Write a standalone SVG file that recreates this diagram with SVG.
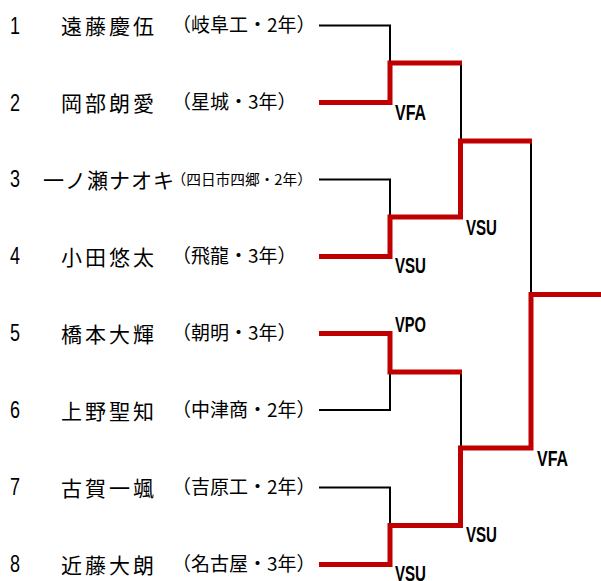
<svg xmlns="http://www.w3.org/2000/svg" width="601" height="581" viewBox="0 0 601 581">
<style>
.num{font-family:"Liberation Sans",Arial,sans-serif;font-size:23px;fill:#000}
.name{font-family:"Noto Sans CJK JP","Noto Sans CJK SC",sans-serif;font-size:21px;fill:#000}
.sch{font-family:"Noto Sans CJK JP","Noto Sans CJK SC",sans-serif;font-size:19px;fill:#000}
.sch2{font-family:"Noto Sans CJK JP","Noto Sans CJK SC",sans-serif;font-size:14.7px;fill:#000}
.lab{font-family:"Liberation Sans",Arial,sans-serif;font-size:22px;font-weight:bold;fill:#000}
.lose{fill:none;stroke:#000;stroke-width:2}
.win{fill:none;stroke:#C00000;stroke-width:5;stroke-linejoin:miter;stroke-linecap:butt}
</style>
<rect width="601" height="581" fill="#fff"/>
<g id="p1"><text class="num" x="10" y="33.5" textLength="10" lengthAdjust="spacingAndGlyphs">1</text><text class="name" x="61" y="33.5" textLength="93">遠藤慶伍</text><text class="sch" x="172" y="31.5">（岐阜工・2年）</text></g>
<g id="p2"><text class="num" x="10" y="110.5" textLength="10" lengthAdjust="spacingAndGlyphs">2</text><text class="name" x="61" y="110.5" textLength="93">岡部朗愛</text><text class="sch" x="172" y="108.5">（星城・3年）</text></g>
<g id="p3"><text class="num" x="10" y="187" textLength="10" lengthAdjust="spacingAndGlyphs">3</text><text class="name" x="43" y="187.5" textLength="131">一ノ瀬ナオキ</text><text class="sch2" x="171.5" y="184.5">（四日市四郷・2年）</text></g>
<g id="p4"><text class="num" x="10" y="264" textLength="10" lengthAdjust="spacingAndGlyphs">4</text><text class="name" x="61" y="264.5" textLength="93">小田悠太</text><text class="sch" x="172" y="262.5">（飛龍・3年）</text></g>
<g id="p5"><text class="num" x="10" y="341" textLength="10" lengthAdjust="spacingAndGlyphs">5</text><text class="name" x="61" y="341.5" textLength="93">橋本大輝</text><text class="sch" x="172" y="339.5">（朝明・3年）</text></g>
<g id="p6"><text class="num" x="10" y="418" textLength="10" lengthAdjust="spacingAndGlyphs">6</text><text class="name" x="61" y="418.5" textLength="93">上野聖知</text><text class="sch" x="172" y="416.5">（中津商・2年）</text></g>
<g id="p7"><text class="num" x="10" y="495" textLength="10" lengthAdjust="spacingAndGlyphs">7</text><text class="name" x="61" y="495.5" textLength="93">古賀一颯</text><text class="sch" x="172" y="493.5">（吉原工・2年）</text></g>
<g id="p8"><text class="num" x="10" y="572" textLength="10" lengthAdjust="spacingAndGlyphs">8</text><text class="name" x="61" y="572.5" textLength="93">近藤大朗</text><text class="sch" x="172" y="570.5">（名古屋・3年）</text></g>
<g id="connectors">
<path class="lose" d="M319,25.5 H390 V63"/>
<path class="lose" d="M319,179.5 H390 V217"/>
<path class="lose" d="M319,410 H390 V372"/>
<path class="lose" d="M319,487.5 H390 V525.5"/>
<path class="lose" d="M461,63 V141"/>
<path class="lose" d="M461,372 V448"/>
<path class="lose" d="M531,141 V294.5"/>
<path class="win" d="M319,102.5 H390 V63 H462"/>
<path class="win" d="M319,256.5 H390 V217 H460.5 V141 H532"/>
<path class="win" d="M319,333.5 H390 V372 H462"/>
<path class="win" d="M319,564.5 H390 V525.5 H460.5 V448 H531 V294.5 H601"/>
</g>
<g id="labels">
<text class="lab" x="395" y="120" textLength="31" lengthAdjust="spacingAndGlyphs">VFA</text>
<text class="lab" x="395" y="273" textLength="31" lengthAdjust="spacingAndGlyphs">VSU</text>
<text class="lab" x="466" y="235" textLength="31" lengthAdjust="spacingAndGlyphs">VSU</text>
<text class="lab" x="395" y="332" textLength="31" lengthAdjust="spacingAndGlyphs">VPO</text>
<text class="lab" x="537" y="466" textLength="31" lengthAdjust="spacingAndGlyphs">VFA</text>
<text class="lab" x="466" y="542" textLength="31" lengthAdjust="spacingAndGlyphs">VSU</text>
<text class="lab" x="395" y="581" textLength="31" lengthAdjust="spacingAndGlyphs">VSU</text>
</g>
</svg>
